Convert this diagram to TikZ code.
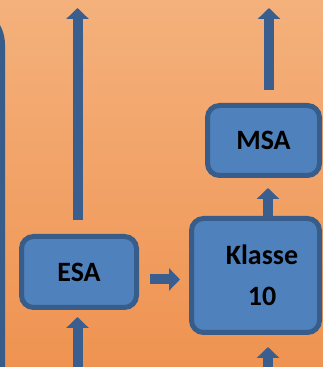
\documentclass[tikz,border=0pt]{standalone}
\usepackage{fontspec}
\setmainfont{Carlito}
\usetikzlibrary{arrows.meta,positioning}
\definecolor{boxblau}{HTML}{4F81BD}
\definecolor{randblau}{HTML}{385D8A}
\definecolor{pfeilblau}{HTML}{3A5F8E}
\definecolor{orangehell}{HTML}{F4B17C}
\definecolor{orangedunkel}{HTML}{EF9351}

\begin{document}
\begin{tikzpicture}[
    x=1pt, y=1pt,
    font=\fontsize{28}{41}\selectfont\bfseries,
    % Styles für Konsistenz
    abschluss/.style={draw=randblau, line width=5pt, fill=boxblau, rounded corners=12pt, inner sep=0pt, align=center},
    pfeil/.style={draw=pfeilblau, line width=10pt, line cap=butt, -{Triangle[width=22pt,length=11pt]}}
]

% --- HINTERGRUND ---
\useasboundingbox (0,0) rectangle (323,367);
\clip (0,0) rectangle (323,367);
\shade[top color=orangehell, bottom color=orangedunkel] (0,0) rectangle (323,367);
\coordinate (oben) at (0,359);
\coordinate (unten) at (0,-1);

% linker Rahmen (angeschnitten)
\draw[randblau, line width=5pt] (2.5,-10) -- (2.5,322) arc[start angle=0, end angle=90, radius=40];

% --- ABSCHLÜSSE ---
\node[abschluss, minimum width=115pt, minimum height=71pt] (esa) at (79,95) {ESA};
\node[abschluss, minimum width=128pt, minimum height=114pt,
      label={[align=center, xshift=6.5pt]center:Klasse\\10}] (klasse) at (255.5,91.5) {};
\node[abschluss, minimum width=112pt, minimum height=70pt] (msa) at (263.5,226.5) {MSA};

% --- PFEILE ---
% ESA
\draw[pfeil] ([xshift=-1.5pt, yshift=14pt]esa.north) -- ([xshift=-1.5pt]esa.north |- oben);
\draw[pfeil, shorten >=7pt] ([xshift=-1.5pt]esa.south |- unten) -- ([xshift=-1.5pt]esa.south);
\draw[pfeil, shorten <=11pt, shorten >=9pt] ([yshift=-7.5pt]esa.east) -- ([yshift=-7.5pt]esa.east -| klasse.west);

% Klasse 10
\draw[pfeil, shorten >=10pt] ([xshift=12.5pt]klasse.north) -- ([xshift=12.5pt]klasse.north |- msa.south);
\draw[pfeil, shorten >=12pt] ([xshift=12.5pt]klasse.south |- unten) -- ([xshift=12.5pt]klasse.south);

% MSA
\draw[pfeil] ([xshift=5.5pt, yshift=13pt]msa.north) -- ([xshift=5.5pt]msa.north |- oben);

\end{tikzpicture}
\end{document}
